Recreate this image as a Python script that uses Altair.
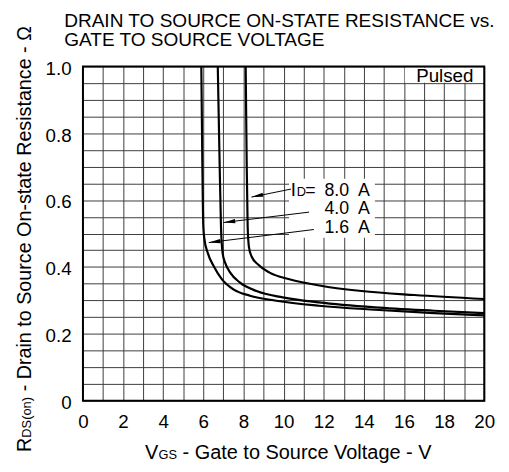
import math
import altair as alt
import pandas as pd

FONT = "Liberation Sans"
W, H = 407, 339
XS, YS = W / 20.0, H / 1.0  # px per unit (for arrowhead rotation only)

# ---- data ----
v_16 = [5.90, 5.95, 6.00, 6.06, 6.22, 6.52, 6.93, 7.50, 8.32, 9.63, 11.76, 14.55, 17.5, 20.0]
r_16 = [1.000, 0.717, 0.520, 0.481, 0.442, 0.402, 0.363, 0.333, 0.314, 0.299, 0.284, 0.272, 0.262, 0.255]
v_40 = [6.72, 6.81, 6.88, 6.96, 7.09, 7.34, 7.83, 8.65, 9.96, 11.76, 14.55, 17.5, 20.0]
r_40 = [1.000, 0.717, 0.520, 0.442, 0.412, 0.383, 0.353, 0.328, 0.309, 0.294, 0.279, 0.269, 0.262]
v_80 = [8.11, 8.16, 8.21, 8.27, 8.40, 8.73, 9.30, 10.29, 11.92, 13.89, 16.51, 20.0]
r_80 = [1.000, 0.717, 0.520, 0.461, 0.432, 0.407, 0.383, 0.363, 0.343, 0.328, 0.316, 0.304]

series_names = ["1.6 A", "4.0 A", "8.0 A"]

# arrows: start (text side) -> tip (curve side)
arr_x0 = [10.37, 11.27, 11.51]
arr_y0 = [0.633, 0.564, 0.512]
arr_x1 = [8.40, 7.01, 6.27]
arr_y1 = [0.609, 0.533, 0.473]

# label pieces
lab_left_text = ["I", "D", "="]
lab_left_x = [10.36, 10.66, 11.08]
lab_left_y = [0.611, 0.611, 0.611]
lab_left_size = [19, 13, 18]

lab_right_text = ["8.0\u2002A", "4.0\u2002A", "1.6\u2002A", "Pulsed"]
lab_right_x = [14.30, 14.30, 14.30, 19.46]
lab_right_y = [0.611, 0.558, 0.501, 0.953]
lab_right_size = [18, 18, 18, 19]

# white backgrounds behind annotation text
box_x = [10.27, 16.05]
box_x2 = [14.55, 19.95]
box_y = [0.487, 0.951]
box_y2 = [0.664, 0.997]

x_grid = list(range(0, 21))
y_grid = [round(i * 0.05, 2) for i in range(21)]

title_lines = ["DRAIN TO SOURCE ON-STATE RESISTANCE vs.", "GATE TO SOURCE VOLTAGE"]

# ---- tables ----
rows = []
for name, vs, rs in zip(series_names, [v_16, v_40, v_80], [r_16, r_40, r_80]):
    for i, (v, r) in enumerate(zip(vs, rs)):
        rows.append({"s": name, "i": i, "v": v, "r": r})
curves = pd.DataFrame(rows)

arrows = pd.DataFrame({"x0": arr_x0, "y0": arr_y0, "x1": arr_x1, "y1": arr_y1})
arrows["ang"] = [
    (math.degrees(math.atan2(-(a - c) * YS, (b - d) * XS)) + 360) % 360
    for b, a, d, c in zip(arr_x0, arr_y0, arr_x1, arr_y1)
]

labs_l = pd.DataFrame({"t": lab_left_text, "x": lab_left_x, "y": lab_left_y, "fs": lab_left_size})
labs_r = pd.DataFrame({"t": lab_right_text, "x": lab_right_x, "y": lab_right_y, "fs": lab_right_size})
boxes = pd.DataFrame({"x": box_x, "x2": box_x2, "y": box_y, "y2": box_y2})

xs = alt.Scale(domain=[0, 20], nice=False, zero=False)
ys = alt.Scale(domain=[0, 1], nice=False, zero=False)

GRID = "#3c3c3c"
x_axis = alt.Axis(
    values=x_grid, title="", grid=True, gridColor=GRID, gridWidth=1, gridOpacity=1,
    domain=False, ticks=False, labelPadding=12, labelFlush=False, labelOverlap=False,
    labelFont=FONT, labelFontSize=19, labelColor="black",
    labelExpr="datum.value % 2 == 0 ? datum.label : ''",
)
y_axis = alt.Axis(
    values=y_grid, title="", grid=True, gridColor=GRID, gridWidth=1, gridOpacity=1,
    domain=False, ticks=False, labelPadding=12, labelFlush=False, labelOverlap=False,
    labelFont=FONT, labelFontSize=19, labelColor="black", labelOffset=2,
    labelExpr="round(datum.value * 100) % 20 == 0 ? (datum.value == 0 ? '0' : format(datum.value, '.1f')) : ''",
)


def X(f):
    return alt.X(f, type="quantitative", scale=xs, axis=x_axis)


def Y(f):
    return alt.Y(f, type="quantitative", scale=ys, axis=y_axis)


bg = alt.Chart(boxes).mark_rect(color="white").encode(x=X("x"), x2="x2:Q", y=Y("y"), y2="y2:Q")

lines = alt.Chart(curves).mark_line(color="black", strokeWidth=2.2, interpolate="monotone").encode(
    x=X("v"), y=Y("r"), detail="s:N", order="i:Q"
)

arrow_lines = alt.Chart(arrows).mark_rule(color="black", strokeWidth=1).encode(
    x=X("x0"), y=Y("y0"), x2="x1:Q", y2="y1:Q"
)
arrow_heads = alt.Chart(arrows).mark_point(
    shape="M0,0 L2,-0.36 L2,0.36 Z", filled=True, color="black", opacity=1, size=140, strokeWidth=0
).encode(x=X("x1"), y=Y("y1"), angle=alt.Angle("ang:Q", scale=None))

txt_l = alt.Chart(labs_l).mark_text(align="left", baseline="alphabetic", font=FONT, color="black").encode(
    x=X("x"), y=Y("y"), text="t:N", size=alt.Size("fs:Q", scale=None)
)
txt_r = alt.Chart(labs_r).mark_text(align="right", baseline="alphabetic", font=FONT, color="black").encode(
    x=X("x"), y=Y("y"), text="t:N", size=alt.Size("fs:Q", scale=None)
)


def free_text(t, x, y, size, angle=0):
    kw = dict(align="left", baseline="alphabetic", font=FONT, fontSize=size, color="black", text=t)
    if angle:
        kw["angle"] = angle
    return alt.Chart(pd.DataFrame({"k": [0]})).mark_text(**kw).encode(x=alt.value(x), y=alt.value(y))


# chart title
t1 = free_text(title_lines[0], -19, -40, 19.3)
t2 = free_text(title_lines[1], -19, -21, 19.3)

# x axis title with subscript
xt = [
    free_text("V", 63, 398, 20.2),
    free_text("GS", 76.6, 398, 13),
    free_text("- Gate to Source Voltage - V", 101, 398, 20.2),
]
# y axis title with subscript (rotated)
yt = [
    free_text("R", -53, 391, 20, 270),
    free_text("DS(on)", -53, 376.5, 13, 270),
    free_text("- Drain to Source On-state Resistance - \u03a9", -53, 329.5, 20, 270),
]

border = alt.Chart(pd.DataFrame({"k": [0]})).mark_rect(
    fill="white", fillOpacity=0, stroke="black", strokeWidth=2
).encode(x=alt.value(0), x2=alt.value(W), y=alt.value(0), y2=alt.value(H))

chart = alt.layer(
    bg, arrow_lines, arrow_heads, lines, txt_l, txt_r, border, t1, t2, *xt, *yt
).properties(
    width=W, height=H,
    autosize=alt.AutoSizeParams(type="none"),
    padding={"left": 76, "top": 56, "right": 17, "bottom": 60},
).configure_view(stroke=None)

chart.save("out.html", embed_options={"renderer": "svg", "actions": False})
